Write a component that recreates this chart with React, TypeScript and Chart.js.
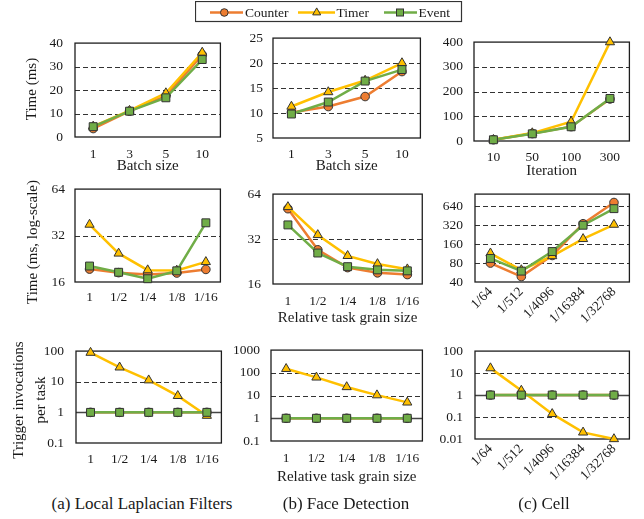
import React, { useEffect, useRef } from "react";
import { Chart, registerables } from "chart.js";

Chart.register(...registerables);

const FONT = "'Liberation Serif', 'DejaVu Serif', 'Noto Serif', serif";
const TEXT = "#1a1a1a";
const C_COUNTER = "#ED7D31";
const C_TIMER = "#FFC000";
const C_EVENT = "#70AD47";

// ---------- categories ----------
const batchSizes = ["1", "3", "5", "10"];
const iterations = ["10", "50", "100", "300"];
const grainSizes = ["1", "1/2", "1/4", "1/8", "1/16"];
const cellGrains = ["1/64", "1/512", "1/4096", "1/16384", "1/32768"];

// ---------- row 1: time vs batch size / iteration ----------
const llfBatchCounter = [3.6, 11.0, 17.5, 35.0];
const llfBatchTimer = [4.5, 11.2, 18.7, 36.0];
const llfBatchEvent = [4.4, 11.0, 16.7, 33.0];

const fdBatchCounter = [10.1, 11.3, 13.3, 18.3];
const fdBatchTimer = [11.3, 14.2, 16.5, 20.0];
const fdBatchEvent = [9.8, 12.2, 16.4, 18.7];

const cellIterCounter = [5, 30, 58, 170];
const cellIterTimer = [5, 32, 78, 400];
const cellIterEvent = [5, 29, 57.5, 172];

// ---------- row 2: time vs grain size (log) ----------
const llfGrainCounter = [19.4, 18.4, 17.9, 18.3, 19.3];
const llfGrainTimer = [37.7, 24.5, 19.1, 19.0, 21.6];
const llfGrainEvent = [20.3, 18.5, 16.8, 18.9, 38.7];

const fdGrainCounter = [51.1, 27.1, 20.6, 19.0, 18.5];
const fdGrainTimer = [52.5, 34.1, 24.7, 21.8, 20.1];
const fdGrainEvent = [39.8, 25.8, 20.9, 19.9, 19.6];

const cellGrainCounter = [80, 48.8, 105.6, 338, 735];
const cellGrainTimer = [114.5, 62, 103.6, 194, 327];
const cellGrainEvent = [94.8, 59.6, 122, 320, 587];

// ---------- row 3: trigger invocations per task (log) ----------
const llfTrigCounter = [1, 1, 1, 1, 1];
const llfTrigTimer = [89, 29.5, 11.2, 3.46, 0.78];
const llfTrigEvent = [1, 1, 1, 1, 1];

const fdTrigCounter = [1, 1, 1, 1, 1];
const fdTrigTimer = [150, 63, 23.8, 10.4, 5.0];
const fdTrigEvent = [1, 1, 1, 1, 1];

const cellTrigCounter = [1, 1, 1, 1, 1];
const cellTrigTimer = [16.8, 1.6, 0.139, 0.02, 0.01];
const cellTrigEvent = [1, 1, 1, 1, 1];

// ---------- y tick labels ----------
const llfBatchTicks = [0, 10, 20, 30, 40];
const fdBatchTicks = [5, 10, 15, 20, 25];
const cellIterTicks = [0, 100, 200, 300, 400];
const llfGrainTicks = [16, 32, 64];
const fdGrainTicks = [16, 32, 64];
const cellGrainTicks = [40, 80, 160, 320, 640];
const llfTrigTicks = [0.1, 1, 10, 100];
const fdTrigTicks = [0.1, 1, 10, 100, 1000];
const cellTrigTicks = [0.01, 0.1, 1, 10, 100];

type PanelProps = {
  plot: [number, number, number, number];
  yw: number;
  xh: number;
  pt?: number;
  pr?: number;
  labels: string[];
  counter: number[];
  timer: number[];
  event: number[];
  yType: "linear" | "logarithmic";
  yMin: number;
  yMax: number;
  yTicks: number[];
  yPad: number;
  xPad: number;
  solidAt?: number;
  xTitle?: string;
  rotate?: boolean;
  yTitle?: { lines: string[]; x: number; y: number; lh: number };
};

function Panel(p: PanelProps) {
  const ref = useRef<HTMLCanvasElement | null>(null);
  const pt = p.pt ?? 10;
  const pr = p.pr ?? 4;
  const [L, T, R, B] = p.plot;
  const left = L - p.yw;
  const top = T - pt;
  const width = R - L + p.yw + pr;
  const height = B - T + pt + p.xh;

  useEffect(() => {
    if (!ref.current) return;
    const gridPlugin = {
      id: "gridBox",
      beforeDatasetsDraw(chart: any) {
        const { ctx, chartArea } = chart;
        const ys = chart.scales.y;
        ctx.save();
        for (const v of p.yTicks) {
          if (v <= p.yMin * 1.0001 || v >= p.yMax * 0.9999) continue;
          const y = Math.round(ys.getPixelForValue(v)) + 0.5;
          ctx.beginPath();
          if (p.solidAt !== undefined && v === p.solidAt) {
            ctx.setLineDash([]);
            ctx.strokeStyle = "#444";
            ctx.lineWidth = 1.5;
          } else {
            ctx.setLineDash([5, 3]);
            ctx.strokeStyle = "#333";
            ctx.lineWidth = 1;
          }
          ctx.moveTo(chartArea.left, y);
          ctx.lineTo(chartArea.right, y);
          ctx.stroke();
        }
        ctx.setLineDash([]);
        ctx.strokeStyle = "#1e1e1e";
        ctx.lineWidth = 1.3;
        ctx.strokeRect(
          chartArea.left,
          chartArea.top,
          chartArea.right - chartArea.left,
          chartArea.bottom - chartArea.top
        );
        ctx.restore();
      },
    };
    const yTitlePlugin = {
      id: "yTitle",
      afterDraw(chart: any) {
        if (!p.yTitle) return;
        const { ctx } = chart;
        ctx.save();
        ctx.font = `15px ${FONT}`;
        ctx.fillStyle = TEXT;
        ctx.textAlign = "center";
        ctx.textBaseline = "middle";
        p.yTitle.lines.forEach((line, i) => {
          ctx.save();
          ctx.translate(p.yTitle!.x + i * p.yTitle!.lh - left, p.yTitle!.y - top);
          ctx.rotate(-Math.PI / 2);
          ctx.fillText(line, 0, 0);
          ctx.restore();
        });
        ctx.restore();
      },
    };
    const common = { borderWidth: 2.5, pointBorderColor: "#333", pointBorderWidth: 1, clip: false as any, tension: 0 };
    const chart = new Chart(ref.current, {
      type: "line",
      data: {
        labels: p.labels,
        datasets: [
          { ...common, label: "Counter", data: p.counter, borderColor: C_COUNTER, backgroundColor: C_COUNTER, pointBackgroundColor: C_COUNTER, pointStyle: "circle", pointRadius: 4.3, order: 2 },
          { ...common, label: "Timer", data: p.timer, borderColor: C_TIMER, backgroundColor: C_TIMER, pointBackgroundColor: C_TIMER, pointStyle: "triangle", pointRadius: 5.3, order: 1 },
          { ...common, label: "Event", data: p.event, borderColor: C_EVENT, backgroundColor: C_EVENT, pointBackgroundColor: C_EVENT, pointStyle: "rect", pointRadius: 5.6, order: 0 },
        ] as any,
      },
      options: {
        responsive: false,
        animation: false,
        events: [],
        layout: { padding: { top: pt, right: pr, left: 0, bottom: 0 } },
        plugins: { legend: { display: false }, tooltip: { enabled: false } },
        scales: {
          x: {
            type: "category",
            offset: true,
            grid: { display: false, drawTicks: false },
            border: { display: false },
            ticks: {
              autoSkip: false,
              padding: p.xPad,
              color: TEXT,
              font: { family: FONT, size: 13.5, lineHeight: 1.2 },
              maxRotation: p.rotate ? 45 : 0,
              minRotation: p.rotate ? 45 : 0,
            },
            title: {
              display: !!p.xTitle,
              text: p.xTitle || "",
              color: TEXT,
              font: { family: FONT, size: 15, lineHeight: 1.2 },
              padding: { top: 0, bottom: 0 },
            },
            afterFit: (s: any) => {
              s.height = p.xh;
            },
          },
          y: {
            type: p.yType,
            min: p.yMin,
            max: p.yMax,
            grid: { display: false, drawTicks: false },
            border: { display: false },
            ticks: {
              padding: p.yPad,
              color: TEXT,
              font: { family: FONT, size: 13.5, lineHeight: 1.2 },
              callback: (v: any) => String(v),
            },
            afterBuildTicks: (s: any) => {
              s.ticks = p.yTicks.map((v) => ({ value: v }));
            },
            afterFit: (s: any) => {
              s.width = p.yw;
            },
          },
        } as any,
      },
      plugins: [gridPlugin, yTitlePlugin],
    });
    return () => chart.destroy();
  }, []);

  return (
    <canvas
      ref={ref}
      width={width}
      height={height}
      style={{ position: "absolute", left, top, width, height, display: "block" }}
    />
  );
}

const captionStyle = (cx: number): React.CSSProperties => ({
  position: "absolute",
  left: cx - 150,
  width: 300,
  top: 494,
  textAlign: "center",
  fontFamily: FONT,
  fontSize: 17,
  lineHeight: "20px",
  color: TEXT,
  whiteSpace: "nowrap",
});

const legendText = (x: number): React.CSSProperties => ({
  position: "absolute",
  left: x,
  top: 3,
  fontFamily: FONT,
  fontSize: 13.5,
  lineHeight: "19px",
  color: TEXT,
  whiteSpace: "nowrap",
});

function Legend() {
  const cy = 11.5;
  return (
    <>
      <svg
        width={268}
        height={22}
        style={{ position: "absolute", left: 195, top: 1 }}
      >
        <rect x={0.5} y={0.5} width={266} height={20} fill="#fff" stroke="#333" strokeWidth={1.2} />
        <line x1={15} y1={cy} x2={48} y2={cy} stroke={C_COUNTER} strokeWidth={2.5} />
        <circle cx={29.3} cy={cy} r={3.8} fill={C_COUNTER} stroke="#333" strokeWidth={1} />
        <line x1={103} y1={cy} x2={140} y2={cy} stroke={C_TIMER} strokeWidth={2.5} />
        <polygon
          points={`121.7,${cy - 4.6} 125.7,${cy + 2.4} 117.7,${cy + 2.4}`}
          fill={C_TIMER}
          stroke="#333"
          strokeWidth={1}
        />
        <line x1={189} y1={cy} x2={222} y2={cy} stroke={C_EVENT} strokeWidth={2.5} />
        <rect x={201.5} y={cy - 3.5} width={7} height={7} fill={C_EVENT} stroke="#333" strokeWidth={1} />
      </svg>
      <span style={legendText(245)}>Counter</span>
      <span style={legendText(336.5)}>Timer</span>
      <span style={legendText(418.5)}>Event</span>
    </>
  );
}

export default function App() {
  return (
    <div style={{ position: "absolute", left: 0, top: 0, width: 644, height: 519, background: "#fff", overflow: "hidden" }}>
      {/* Row 1 */}
      <Panel plot={[75, 33, 223, 137]} yw={71} xh={38} labels={batchSizes}
        counter={llfBatchCounter} timer={llfBatchTimer} event={llfBatchEvent}
        yType="linear" yMin={0} yMax={40} yTicks={llfBatchTicks} yPad={12} xPad={9}
        xTitle="Batch size" yTitle={{ lines: ["Time (ms)"], x: 32.5, y: 89, lh: 0 }} />
      <Panel plot={[273, 30, 423, 138]} yw={50} xh={37} labels={batchSizes}
        counter={fdBatchCounter} timer={fdBatchTimer} event={fdBatchEvent}
        yType="linear" yMin={5} yMax={25} yTicks={fdBatchTicks} yPad={10} xPad={8}
        xTitle="Batch size" />
      <Panel plot={[474, 33, 633, 141]} yw={50} xh={39} pr={3} labels={iterations}
        counter={cellIterCounter} timer={cellIterTimer} event={cellIterEvent}
        yType="linear" yMin={0} yMax={400} yTicks={cellIterTicks} yPad={11} xPad={8}
        xTitle="Iteration" />

      {/* Row 2 */}
      <Panel plot={[75, 181, 223, 282]} yw={71} xh={30} labels={grainSizes}
        counter={llfGrainCounter} timer={llfGrainTimer} event={llfGrainEvent}
        yType="logarithmic" yMin={16} yMax={64} yTicks={llfGrainTicks} yPad={10} xPad={7}
        yTitle={{ lines: ["Time (ms, log-scale)"], x: 33, y: 242, lh: 0 }} />
      <Panel plot={[273, 184, 425, 284]} yw={50} xh={43} labels={grainSizes}
        counter={fdGrainCounter} timer={fdGrainTimer} event={fdGrainEvent}
        yType="logarithmic" yMin={16} yMax={64} yTicks={fdGrainTicks} yPad={12} xPad={9}
        xTitle="Relative task grain size" />
      <Panel plot={[475, 184, 632, 282]} yw={50} xh={60} labels={cellGrains}
        counter={cellGrainCounter} timer={cellGrainTimer} event={cellGrainEvent}
        yType="logarithmic" yMin={40} yMax={1000} yTicks={cellGrainTicks} yPad={12} xPad={2}
        rotate />

      {/* Row 3 */}
      <Panel plot={[76, 341, 224, 443]} yw={72} xh={30} labels={grainSizes}
        counter={llfTrigCounter} timer={llfTrigTimer} event={llfTrigEvent}
        yType="logarithmic" yMin={0.1} yMax={100} yTicks={llfTrigTicks} yPad={12} xPad={8}
        solidAt={1}
        yTitle={{ lines: ["Trigger invocations", "per task"], x: 19.5, y: 400, lh: 21.5 }} />
      <Panel plot={[271, 341, 425, 441]} yw={50} xh={45} labels={grainSizes}
        counter={fdTrigCounter} timer={fdTrigTimer} event={fdTrigEvent}
        yType="logarithmic" yMin={0.1} yMax={1000} yTicks={fdTrigTicks} yPad={11} xPad={9}
        solidAt={1} xTitle="Relative task grain size" />
      <Panel plot={[475, 341, 632, 439]} yw={50} xh={60} labels={cellGrains}
        counter={cellTrigCounter} timer={cellTrigTimer} event={cellTrigEvent}
        yType="logarithmic" yMin={0.01} yMax={100} yTicks={cellTrigTicks} yPad={12} xPad={2}
        solidAt={1} rotate />

      <Legend />

      <div style={captionStyle(142)}>(a) Local Laplacian Filters</div>
      <div style={captionStyle(346)}>(b) Face Detection</div>
      <div style={captionStyle(544)}>(c) Cell</div>
    </div>
  );
}
